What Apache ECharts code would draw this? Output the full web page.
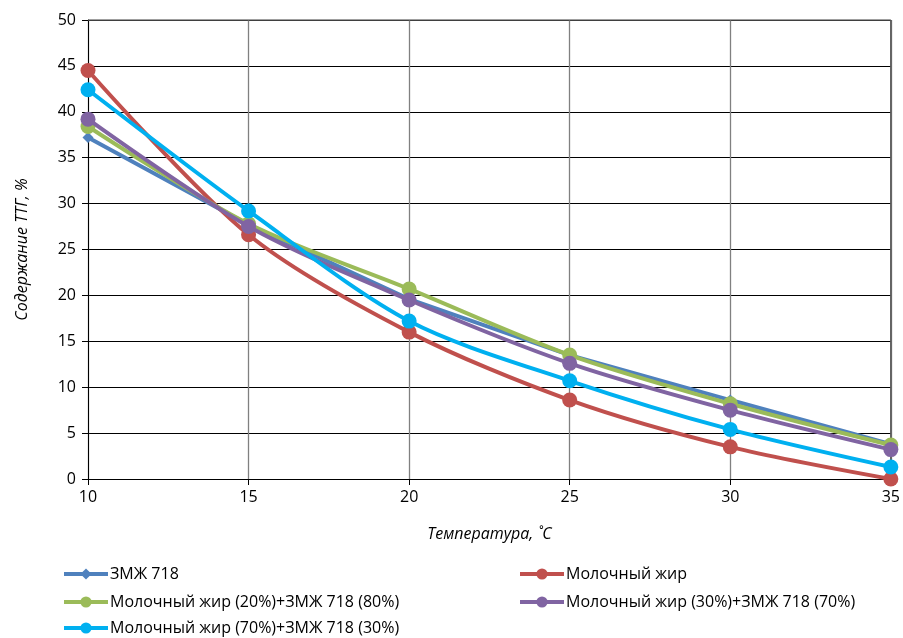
<!DOCTYPE html>
<html><head><meta charset="utf-8">
<script src="https://cdn.jsdelivr.net/npm/echarts@6/dist/echarts.min.js"></script>
<style>html,body{margin:0;padding:0;background:#fff}#c{width:903px;height:638px}</style>
</head><body><div id="c"></div>
<script>
const temps = [10, 15, 20, 25, 30, 35];
const zmzh = [37.2, 27.7, 19.6, 13.5, 8.6, 3.8];
const milk = [44.5, 26.6, 16.0, 8.6, 3.5, 0.0];
const mix20 = [38.4, 27.8, 20.7, 13.5, 8.2, 3.7];
const mix30 = [39.2, 27.5, 19.5, 12.6, 7.5, 3.2];
const mix70 = [42.4, 29.2, 17.2, 10.7, 5.4, 1.3];
const names = ['ЗМЖ 718', 'Молочный жир', 'Молочный жир (20%)+ЗМЖ 718 (80%)', 'Молочный жир (30%)+ЗМЖ 718 (70%)', 'Молочный жир (70%)+ЗМЖ 718 (30%)'];
const colors = ['#4F81BD', '#C0504D', '#9BBB59', '#8064A2', '#00B0F0'];
const FONT = '"Open Sans", "Liberation Sans", sans-serif';

function mk(i, data, symbol, size, smooth) {
  return {
    name: names[i], type: 'line', data: temps.map((t, k) => [t, data[k]]),
    symbol: symbol, symbolSize: size, smooth: smooth,
    lineStyle: {color: colors[i], width: 4},
    itemStyle: {color: colors[i]}, z: 2 + i
  };
}
const legendPos = [[57, 563], [513, 563], [57, 591], [513, 591], [57, 617]];
const chart = echarts.init(document.getElementById('c'));
chart.setOption({
  animation: false,
  textStyle: {fontFamily: FONT},
  grid: {left: 88, right: 9, top: 20, bottom: 159},
  legend: legendPos.map((p, i) => ({
    left: p[0], top: p[1], data: [names[i]], itemWidth: 44, itemHeight: 14,
    padding: [3, 5, 0, 5],
    lineStyle: {width: 4},
    textStyle: {fontSize: 16, color: '#000', fontFamily: FONT, padding: [0, 0, 0, -3]}, itemGap: 2
  })),
  xAxis: {
    type: 'value', min: 10, max: 35, interval: 5,
    name: 'Температура, ˚С', nameLocation: 'middle', nameGap: 47,
    nameTextStyle: {fontStyle: 'italic', fontSize: 16, color: '#000', fontFamily: FONT},
    axisLine: {lineStyle: {color: '#000'}},
    axisTick: {show: true, length: 6, lineStyle: {color: '#000'}},
    axisLabel: {fontSize: 16, color: '#000', margin: 10},
    splitLine: {show: true, lineStyle: {color: '#808080', width: 1.3}}
  },
  yAxis: {
    type: 'value', min: 0, max: 50, interval: 5,
    name: 'Содержание ТТГ, %', nameLocation: 'middle', nameGap: 58, nameRotate: 90,
    nameTextStyle: {fontStyle: 'italic', fontSize: 16, color: '#000', fontFamily: FONT},
    axisLine: {show: true, lineStyle: {color: '#000'}},
    axisTick: {show: true, length: 6, lineStyle: {color: '#000'}},
    axisLabel: {fontSize: 16, color: '#000', margin: 12},
    splitLine: {show: true, lineStyle: {color: '#000', width: 1.2}}
  },
  series: [
    mk(0, zmzh, 'diamond', 11, false),
    mk(1, milk, 'circle', 15, 0.3),
    mk(2, mix20, 'circle', 15, 0.3),
    mk(3, mix30, 'circle', 15, 0.3),
    mk(4, mix70, 'circle', 15, 0.3),
    {type: 'line', data: [[35, 0], [35, 50]], symbol: 'none', silent: true,
     lineStyle: {color: '#555', width: 1.5}, z: 1},
    {type: 'line', data: [[10, 50], [35, 50]], symbol: 'none', silent: true,
     lineStyle: {color: '#555', width: 1.5}, z: 1}
  ]
});
</script></body></html>
